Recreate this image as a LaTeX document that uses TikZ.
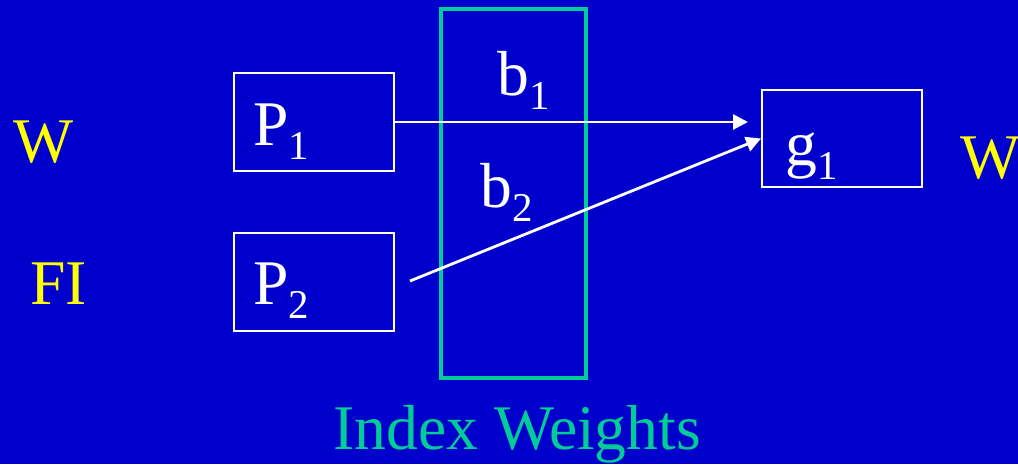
\documentclass[tikz,border=0pt]{standalone}
\usepackage{fontspec}
\setmainfont{Liberation Serif}
\usetikzlibrary{arrows.meta}
\definecolor{slideblue}{RGB}{0,0,204}
\definecolor{idxgreen}{RGB}{0,204,153}
\definecolor{tagyellow}{RGB}{255,255,0}
% lowered small index digit
\newcommand{\lowsub}[1]{\raisebox{-8.3pt}{\fontsize{23.3}{24}\selectfont #1}}

\begin{document}
\begin{tikzpicture}[x=0.02cm,y=-0.02cm,
    lbl/.style={font=\fontsize{36.2}{40}\selectfont, text=white, inner sep=0pt, anchor=base west},
    box/.style={draw=white, line width=1.1pt, minimum width=3.2cm, minimum height=1.96cm, inner sep=0pt},
    link/.style={draw=white, line width=1.6pt, -{Triangle[length=8.5pt,width=8.5pt]}}]
      % page: 1018 x 464 px, 1px = 0.02cm
      \useasboundingbox (0,0) rectangle (1018,464);
      \clip (0,0) rectangle (1018,464);
      \fill[slideblue] (0,0) rectangle (1018,464);
      % weights column
      \node[draw=idxgreen, line width=1.9pt, minimum width=2.9cm, minimum height=7.38cm, inner sep=0pt] (col) at (513.5,193.5) {};
      \node[lbl, text=idxgreen] (idx) at (333,449) {Index Weights};
      % input / output boxes
      \node[box] (P1) at (314,122) {};
      \node[box] (P2) at (314,282) {};
      \node[box, minimum height=1.94cm] (g1) at (842,138.5) {};
      \node[lbl] (p1txt) at (253,145) {P\lowsub{1}};
      \node[lbl] (p2txt) at (253,304) {P\lowsub{2}};
      \node[lbl] (g1txt) at (785,165) {g\lowsub{1}};
      % weights
      \node[lbl] (b1) at (497,95) {b\lowsub{1}};
      \node[lbl] (b2) at (480,207) {b\lowsub{2}};
      % side tags
      \node[lbl, text=tagyellow] (wl) at (13,162) {W};
      \node[lbl, text=tagyellow] (fi) at (30,304) {FI};
      \node[lbl, text=tagyellow] (wr) at (960,178) {W};
      % arrows
      \coordinate (e1) at (748,122);
      \coordinate (s2) at (410,281);
      \draw[link] (P1.east) -- (e1);
      \draw[link] (s2) -- (g1.west);
    \end{tikzpicture}
\end{document}
